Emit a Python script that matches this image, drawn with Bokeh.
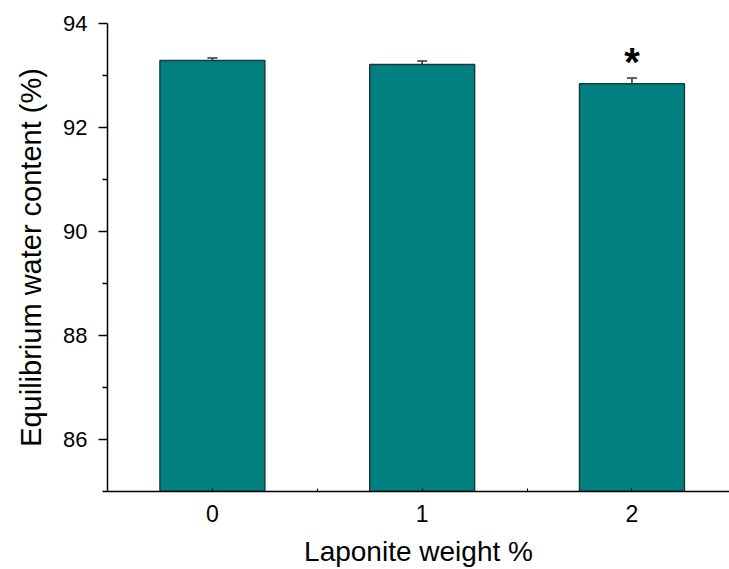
from bokeh.plotting import figure
from bokeh.models import ColumnDataSource, FixedTicker, Whisker, TeeHead, Range1d
from bokeh.core.properties import value
from bokeh.embed import file_html
from bokeh.resources import INLINE

# data
laponite = [0, 1, 2]
ewc = [93.29, 93.21, 92.84]
ewc_err = [0.045, 0.07, 0.11]
marks = ["", "", "*"]
y_major = [86, 88, 90, 92, 94]
y_minor = [85, 87, 89, 91, 93]
x_minor = [0.5, 1.5]

FONT = "Liberation Sans"

src = ColumnDataSource(dict(
    x=laponite,
    top=ewc,
    upper=[v + e for v, e in zip(ewc, ewc_err)],
    mark=marks,
))

p = figure(width=729, height=569, output_backend="svg", toolbar_location=None,
           x_range=Range1d(-0.5, 2.465), y_range=Range1d(85, 94),
           min_border_left=107, min_border_top=23, min_border_right=0,
           min_border_bottom=77)
p.outline_line_color = None
p.xgrid.visible = False
p.ygrid.visible = False
p.background_fill_color = "white"
p.border_fill_color = "white"

p.vbar(x="x", top="top", bottom=85, width=0.5, source=src,
       fill_color="#008080", line_color="#183c3c", line_width=1.5)

p.add_layout(Whisker(source=src, base="x", upper="upper", lower="top",
                     line_color="#333333", line_width=1.5,
                     upper_head=TeeHead(size=10, line_color="#333333", line_width=1.5),
                     lower_head=None))

p.text(x="x", y="upper", text="mark", source=src, y_offset=-16,
       text_align="center", text_baseline="alphabetic",
       text_font=value(FONT), text_font_size="40px", text_font_style="bold",
       text_color="black")

# x axis
xa = p.xaxis[0]
xa.ticker = FixedTicker(ticks=laponite, minor_ticks=x_minor)
xa.axis_label = "Laponite weight %"
xa.axis_label_text_font = FONT
xa.axis_label_text_font_size = "28px"
xa.axis_label_text_font_style = "normal"
xa.axis_label_text_color = "black"
xa.axis_label_standoff = 11
xa.major_label_text_font = FONT
xa.major_label_text_font_size = "23px"
xa.major_label_text_color = "black"
xa.major_label_standoff = 13
xa.major_tick_in = 3
xa.major_tick_out = 0
xa.minor_tick_in = 3
xa.minor_tick_out = 0
xa.axis_line_width = 1.5
xa.major_tick_line_width = 1
xa.minor_tick_line_width = 1
xa.axis_line_color = "black"

# y axis
ya = p.yaxis[0]
ya.ticker = FixedTicker(ticks=y_major, minor_ticks=y_minor)
ya.axis_label = "Equilibrium water content (%)"
ya.axis_label_text_font = FONT
ya.axis_label_text_font_size = "29px"
ya.axis_label_text_font_style = "normal"
ya.axis_label_text_color = "black"
ya.axis_label_standoff = 13
ya.major_label_text_font = FONT
ya.major_label_text_font_size = "22px"
ya.major_label_text_color = "black"
ya.major_label_standoff = 11
ya.major_tick_in = 0
ya.major_tick_out = 9
ya.minor_tick_in = 0
ya.minor_tick_out = 5
ya.axis_line_width = 1.5
ya.major_tick_line_width = 1.5
ya.minor_tick_line_width = 1.5
ya.axis_line_color = "black"

open("out.html", "w").write(file_html(p, INLINE))
